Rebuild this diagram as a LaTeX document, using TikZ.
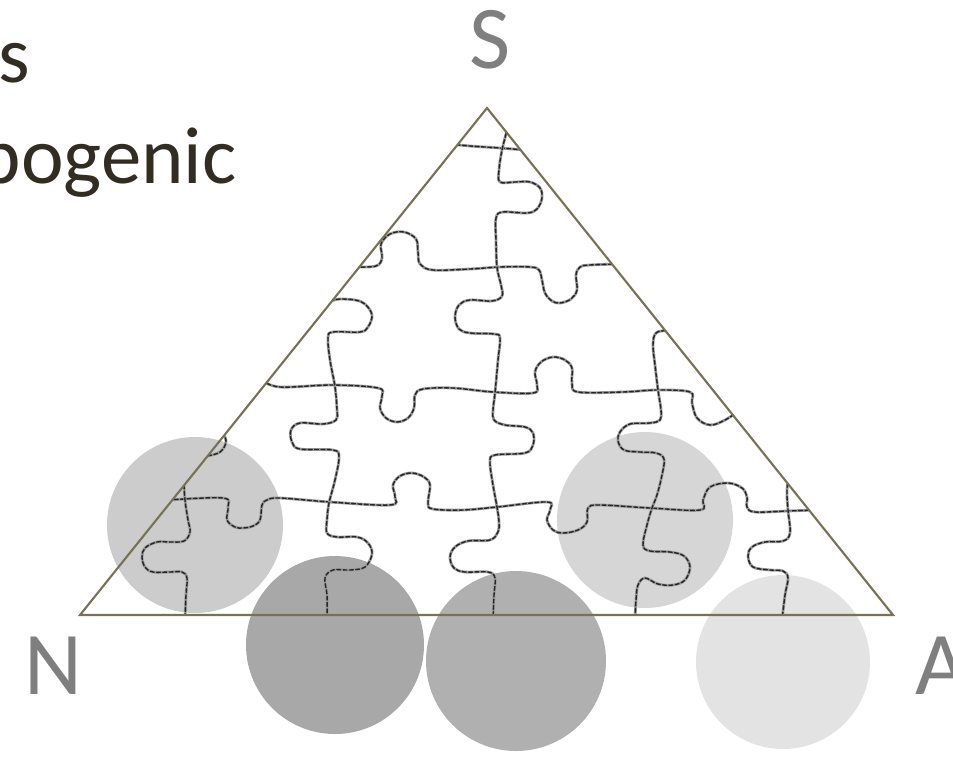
\documentclass[tikz,border=0pt]{standalone}
\usepackage{fontspec}
\setmainfont{Carlito}
\definecolor{edgeolive}{RGB}{118,114,86}
\definecolor{cornergray}{RGB}{127,127,127}
\definecolor{headdark}{RGB}{50,45,35}
\tikzset{
  cut/.style={draw=black!40, line width=1.6pt, line cap=round,
    postaction={draw=black!85, line width=0.8pt, dash pattern=on 2.2pt off 1.4pt}},
  corner/.style={text=cornergray, inner sep=0pt, font=\fontsize{51}{61}\selectfont},
  head/.style={text=headdark, inner sep=0pt, font=\fontsize{46}{56}\selectfont}
}
\begin{document}
\begin{tikzpicture}[x=0.02cm,y=-0.02cm]
    \useasboundingbox (0,0) rectangle (953,758);

    % Kreise hinter dem Dreieck
    \fill[black!20] (195,525) circle (88);
    \fill[black!34] (335,645) circle (89);
    \fill[black!31] (516,661) circle (90);
    \fill[black!16] (645,520) circle (88);
    \fill[black!11] (783,662) circle (87);

    % Puzzle-Schnitte, auf das Dreieck beschnitten
    \begin{scope}
    \clip (487,108) -- (80,615) -- (893,615) -- cycle;
    % Zeilen
    \draw[cut] plot[smooth, tension=0.6] coordinates {(450,144) (470,146) (500,148) (525,150)};
    \draw[cut] plot[smooth, tension=0.6] coordinates {(355,267) (376,266) (382,258) (381,244) (390,234) (404,232) (416,239) (418,252) (420,264) (433,270) (470,269) (500,267) (530,267) (539,270) (542,280) (545,293) (552,301) (560,303) (571,299) (577,290) (576,275) (580,267) (590,265) (620,264)};
    \draw[cut] plot[smooth, tension=0.6] coordinates {(262,380) (280,387) (333,385) (378,388) (382,396) (380,408) (386,418) (397,422) (408,418) (414,408) (415,395) (423,389) (453,388) (493,392) (533,393) (537,385) (535,372) (541,362) (553,357) (565,360) (572,368) (572,383) (578,392) (623,392) (657,390) (690,392) (692,403) (697,418) (710,425) (725,420) (740,410)};
    \draw[cut] plot[smooth, tension=0.6] coordinates {(168,500) (223,498) (228,507) (227,520) (235,527) (243,528) (253,526) (260,520) (262,505) (267,500) (280,498) (330,502) (390,505) (395,497) (393,485) (400,476) (412,473) (424,477) (430,485) (428,503) (433,509) (463,510) (497,507) (547,502) (550,510) (547,520) (553,530) (563,533) (578,530) (587,522) (588,508) (600,505) (650,508) (700,510) (703,500) (710,487) (728,483) (742,488) (747,497) (747,507) (755,512) (787,511) (815,510)};
    % Spalten
    \draw[cut] plot[smooth, tension=0.6] coordinates {(185,400) (186,425) (196,428) (212,428) (222,433) (226,442) (220,452) (207,456) (195,457) (186,462) (184,480) (185,500) (188,520) (190,532) (184,541) (170,542) (157,542) (145,548) (142,557) (145,567) (153,572) (170,572) (182,572) (187,578) (186,595) (185,620)};
    \draw[cut] plot[smooth, tension=0.6] coordinates {(328,250) (328,290) (330,300) (340,299) (355,300) (365,304) (372,315) (368,327) (360,332) (333,332) (328,338) (330,360) (335,387) (337,410) (336,420) (323,424) (300,423) (291,430) (292,442) (300,449) (333,450) (339,457) (335,480) (329,503) (327,520) (327,533) (337,537) (357,537) (368,543) (372,554) (365,567) (350,570) (333,570) (325,578) (327,595) (327,620)};
    \draw[cut] plot[smooth, tension=0.6] coordinates {(510,115) (507,130) (502,150) (499,170) (500,182) (515,182) (530,182) (540,188) (542,198) (537,209) (527,213) (503,212) (496,218) (496,240) (497,267) (501,285) (502,296) (492,301) (470,300) (459,305) (455,317) (459,329) (470,333) (494,334) (500,338) (498,360) (495,393) (493,410) (494,420) (505,425) (525,427) (533,433) (533,445) (525,453) (495,455) (490,462) (493,485) (497,507) (499,522) (498,532) (490,540) (468,541) (455,547) (450,557) (454,568) (465,572) (488,572) (495,578) (494,595) (493,620)};
    \draw[cut] plot[smooth, tension=0.6] coordinates {(690,325) (668,330) (656,333) (653,345) (655,365) (658,390) (661,410) (660,420) (650,423) (630,424) (620,432) (618,441) (624,450) (640,452) (656,453) (664,459) (662,475) (657,495) (652,508) (647,525) (643,545) (650,551) (670,552) (684,556) (690,567) (685,580) (673,585) (658,584) (645,578) (638,585) (636,600) (635,620)};
    \draw[cut] plot[smooth, tension=0.6] coordinates {(795,440) (790,470) (787,490) (788,510) (790,533) (783,541) (765,542) (752,547) (748,556) (753,567) (770,570) (783,571) (788,578) (785,595) (782,620)};
    \end{scope}

    % Dreieck
    \draw[edgeolive, line width=1.2pt, line join=miter] (487,108) -- (80,615) -- (893,615) -- cycle;

    % Ecken
    \node[corner, anchor=base] (sEck) at (490,68) {S};
    \node[corner, anchor=base west] (nEck) at (24,694) {N};
    \node[corner, anchor=base west] (aEck) at (915,694) {A};

    % Titel, links abgeschnitten
    \node[head, anchor=base east] (zeile1) at (30,82) {s};
    \node[head, anchor=base east] (zeile2) at (237,183) {pogenic};
\end{tikzpicture}
\end{document}
